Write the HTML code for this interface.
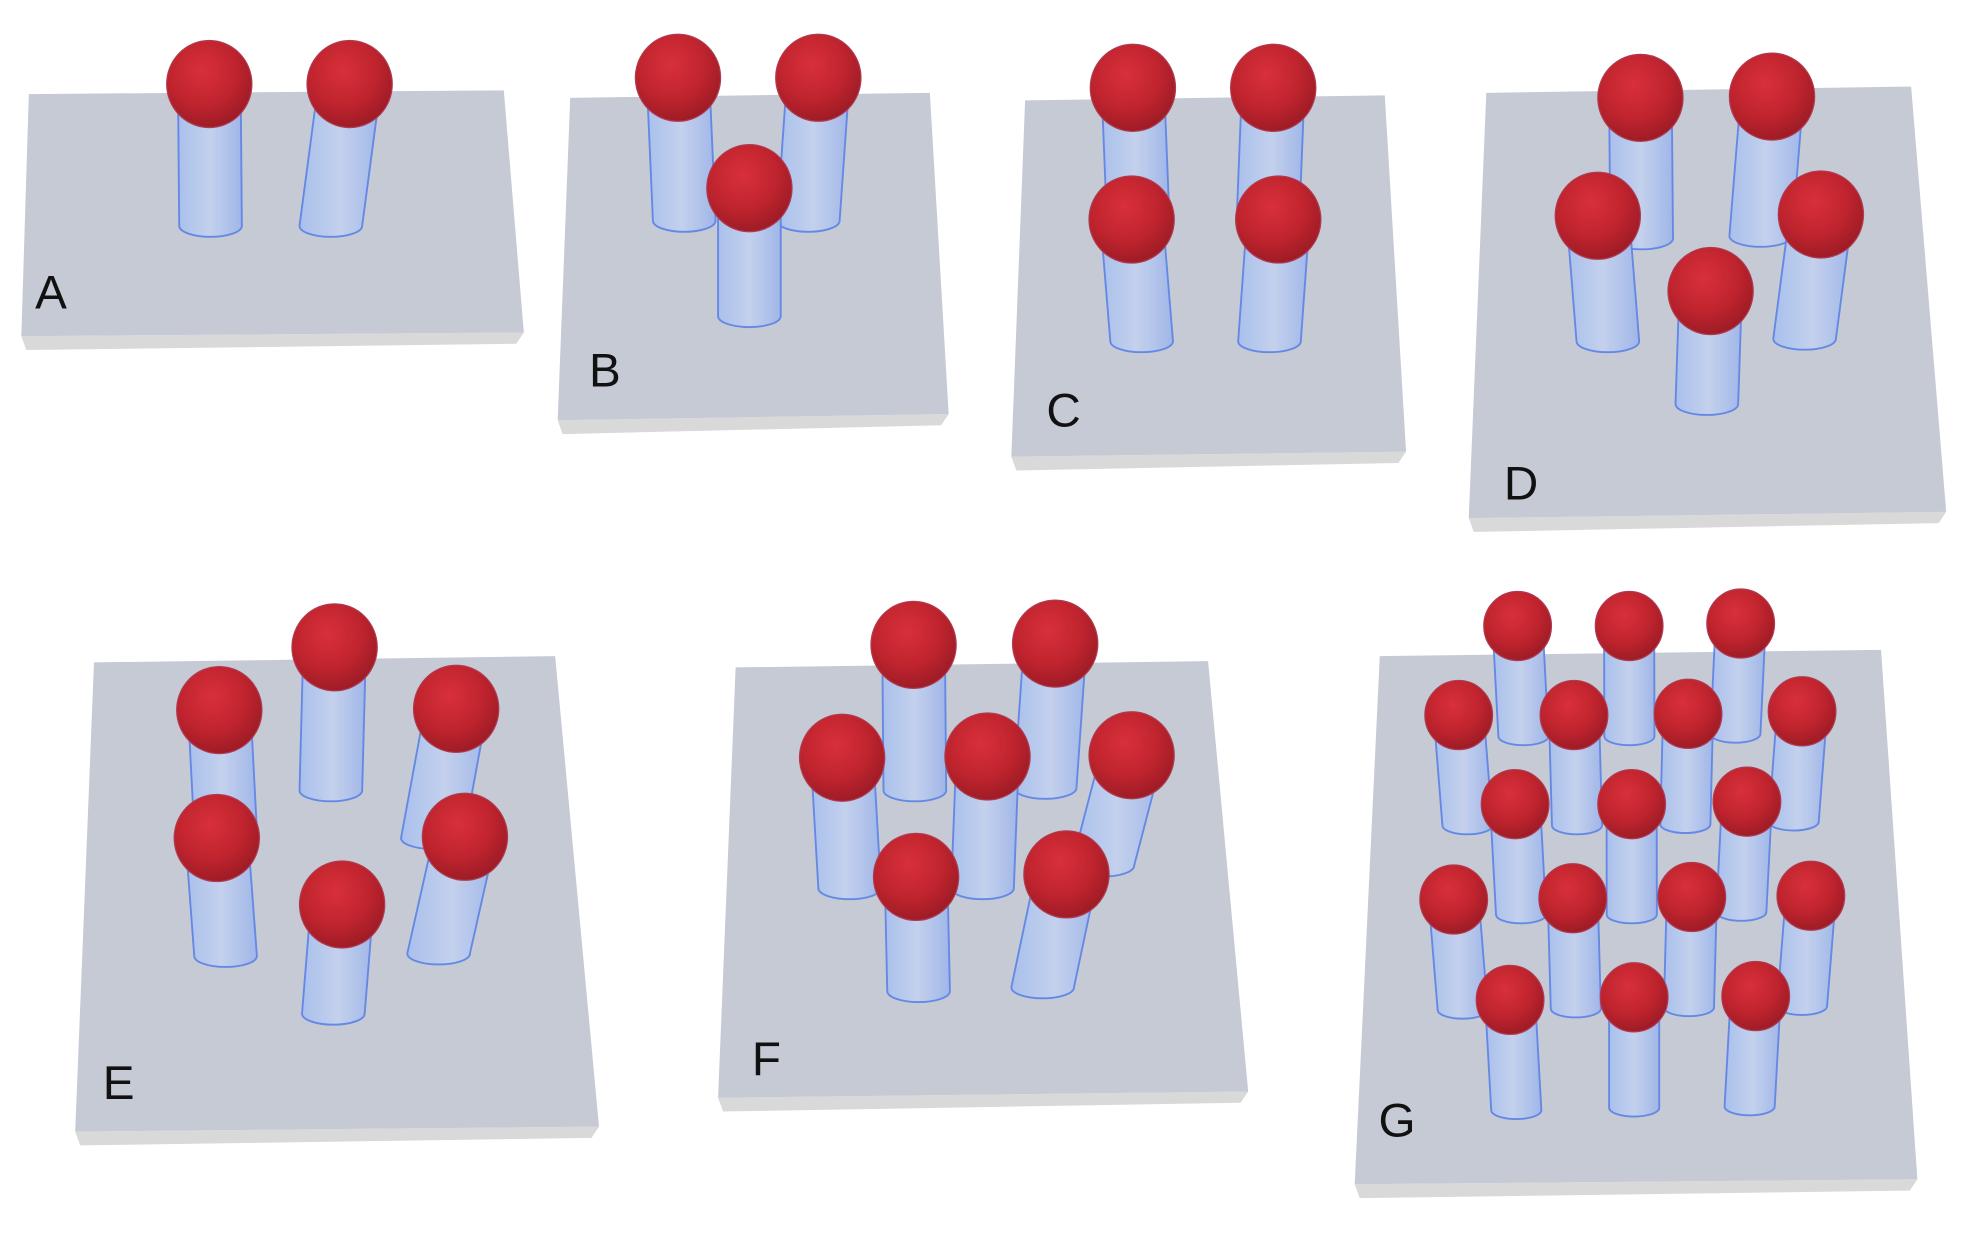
<!DOCTYPE html>
<html><head><meta charset="utf-8"><style>
html,body{margin:0;padding:0;background:#fff;}
svg{display:block}
text{font-family:"Liberation Sans",sans-serif;font-size:38px;fill:#111}
</style></head><body>
<svg id="s" width="1965" height="1242" viewBox="0 0 1568 990" preserveAspectRatio="none" xmlns="http://www.w3.org/2000/svg">
<defs>
<radialGradient id="rg" cx="0.42" cy="0.35" r="0.65">
<stop offset="0" stop-color="#d8303a"/><stop offset="0.6" stop-color="#c0242e"/><stop offset="1" stop-color="#9e1c26"/>
</radialGradient>
<linearGradient id="cg" x1="0" x2="1" y1="0" y2="0">
<stop offset="0" stop-color="#a8bfee"/><stop offset="0.5" stop-color="#c4d2ef"/><stop offset="1" stop-color="#9fb6ea"/>
</linearGradient>
</defs>
<g id="plates"></g>
<g id="pillars"></g>
<text x="28" y="246">A</text>
<text x="470" y="308">B</text>
<text x="835" y="340">C</text>
<text x="1200" y="398">D</text>
<text x="82" y="876">E</text>
<text x="600" y="857">F</text>
<text x="1100" y="906">G</text>
</svg>
<script>
var NS="http://www.w3.org/2000/svg";
function el(t,a,p){var e=document.createElementNS(NS,t);for(var k in a)e.setAttribute(k,a[k]);p.appendChild(e);return e;}
var plates=[
[[23,75],[402,72],[418,265],[17,268]],
[[455,78],[742,74],[757,330],[445,335]],
[[818,80],[1105,76],[1122,360],[807,364]],
[[1186,74],[1525,69],[1553,408],[1172,413]],
[[75,528],[443,523],[478,898],[60,902]],
[[587,532],[964,527],[996,870],[573,875]],
[[1101,523],[1501,518],[1530,940],[1081,944]]];
var pg=document.getElementById('plates');
plates.forEach(function(p){
 var bl=p[3],br=p[2];
 el('polygon',{points:[bl[0],bl[1],br[0],br[1],br[0]-6,br[1]+9,bl[0]+4,bl[1]+11].join(' '),fill:'#d9d9d9'},pg);
 el('polygon',{points:p.map(function(q){return q.join(',')}).join(' '),fill:'#c6cad5'},pg);
});
var R=34,CR=25;
var pil=[
[167,67,168,180],[279,67,264,180],
[541,62,546,176],[653,62,645,176],[598,150,598,252],
[904,70,908,170],[1016,70,1012,170],[903,175,911,272],[1020,175,1013,272],
[1309,78,1310,190],[1414,77,1405,188],[1275,172,1283,272],[1453,171,1440,270],[1365,232,1362,322],
[267,516,264,630],[175,566,180,662],[364,565,345,668],[173,668,180,762],[371,667,350,760],[273,721,266,808],
[729,514,730,630],[842,513,834,628],[672,604,678,708],[788,603,784,708],[903,602,880,690],[731,699,733,790],[851,697,832,787]];
var g=[[1211,499],[1300,499],[1389,497],[1164,570],[1256,570],[1347,569],[1438,567],[1209,641],[1302,641],[1394,639],[1160,717],[1255,716],[1350,715],[1445,714],[1205,797],[1304,795],[1401,794]];
g.forEach(function(q){var dx=-(q[0]-1304)*0.05;pil.push([q[0],q[1],q[0]+dx,q[1]+88,1]);});
pil.sort(function(a,b){return a[1]-b[1]});
var pp=document.getElementById('pillars');
pil.forEach(function(p){
 var r=p[4]?27:R, cr=p[4]?20:CR;
 var x=p[0],y=p[1],bx=p[2],by=p[3];
 var d='M'+(x-cr)+','+y+' L'+(bx-cr)+','+by+' A'+cr+','+(cr*0.35)+' 0 0 0 '+(bx+cr)+','+by+' L'+(x+cr)+','+y+' Z';
 el('path',{d:d,fill:'url(#cg)',stroke:'#5f86e6','stroke-width':1.5,opacity:0.95},pp);
 el('ellipse',{cx:x,cy:y,rx:r,ry:r*1.02,fill:'url(#rg)',stroke:'#b03a50','stroke-width':1},pp);
});
</script>
</body></html>
